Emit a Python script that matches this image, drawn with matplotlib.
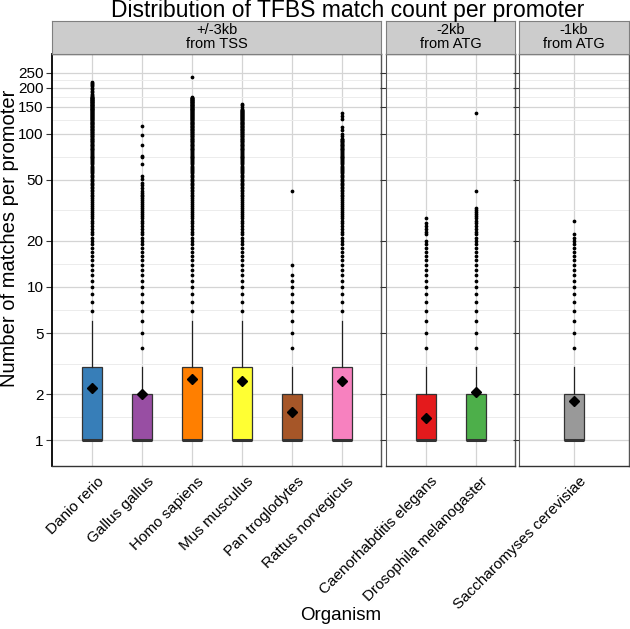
import matplotlib
matplotlib.use("Agg")
from matplotlib import pyplot as plt
import matplotlib.transforms as mtransforms

plt.rcParams['font.family'] = ['Liberation Sans', 'DejaVu Sans']

# facets
facet_labels = ['+/-3kb\nfrom TSS', '-2kb\nfrom ATG', '-1kb\nfrom ATG']
facet_organisms = [
    ['Danio rerio', 'Gallus gallus', 'Homo sapiens', 'Mus musculus', 'Pan troglodytes', 'Rattus norvegicus'],
    ['Caenorhabditis elegans', 'Drosophila melanogaster'],
    ['Saccharomyses cerevisiae'],
]

colors = {
    'Danio rerio': '#377EB8', 'Gallus gallus': '#984EA3', 'Homo sapiens': '#FF7F00',
    'Mus musculus': '#FFFF33', 'Pan troglodytes': '#A65628', 'Rattus norvegicus': '#F781BF',
    'Caenorhabditis elegans': '#E41A1C', 'Drosophila melanogaster': '#4DAF4A',
    'Saccharomyses cerevisiae': '#999999',
}

# box stats (counts are integers)
q1 = {k: 1 for k in colors}
median = {k: 1 for k in colors}
q3 = {'Danio rerio': 3, 'Gallus gallus': 2, 'Homo sapiens': 3, 'Mus musculus': 3,
      'Pan troglodytes': 2, 'Rattus norvegicus': 3, 'Caenorhabditis elegans': 2,
      'Drosophila melanogaster': 2, 'Saccharomyses cerevisiae': 2}
whisker_hi = {'Danio rerio': 6, 'Gallus gallus': 3, 'Homo sapiens': 6, 'Mus musculus': 6,
              'Pan troglodytes': 3, 'Rattus norvegicus': 6, 'Caenorhabditis elegans': 3,
              'Drosophila melanogaster': 3, 'Saccharomyses cerevisiae': 3}
means = {'Danio rerio': 2.2, 'Gallus gallus': 2.0, 'Homo sapiens': 2.5, 'Mus musculus': 2.42,
         'Pan troglodytes': 1.52, 'Rattus norvegicus': 2.45, 'Caenorhabditis elegans': 1.4,
         'Drosophila melanogaster': 2.05, 'Saccharomyses cerevisiae': 1.8}

# outliers: every integer count observed from first outlier up to dense_max, plus sparse ones
dense_max = {'Danio rerio': 175, 'Gallus gallus': 42, 'Homo sapiens': 172, 'Mus musculus': 143,
             'Pan troglodytes': 12, 'Rattus norvegicus': 93, 'Caenorhabditis elegans': 20,
             'Drosophila melanogaster': 33, 'Saccharomyses cerevisiae': 22}
sparse_outliers = {
    'Danio rerio': [178, 182, 186, 190, 195, 200, 204, 208, 212, 215, 218],
    'Gallus gallus': [44, 46, 48, 51, 53, 63, 70, 72, 85, 98, 112],
    'Homo sapiens': [174, 235],
    'Mus musculus': [146, 150, 153, 156],
    'Pan troglodytes': [14, 42],
    'Rattus norvegicus': [96, 100, 106, 111, 124, 130, 137],
    'Caenorhabditis elegans': [22, 23, 24, 25, 26, 28],
    'Drosophila melanogaster': [42, 136],
    'Saccharomyses cerevisiae': [27],
}

y_breaks = [1, 2, 5, 10, 20, 50, 100, 150, 200, 250]
y_minor = [1.414, 3.162, 7.071, 14.14, 31.62, 70.71, 122.5, 173.2, 223.6]

W, H = 630, 629
fig = plt.figure(figsize=(W / 100, H / 100), dpi=100)

panels = [(52, 381, -0.79), (386, 515, -0.79), (519, 629, -1.1)]
top, bottom, strip_top = 54, 466, 21

for i, (x0, x1, lo) in enumerate(panels):
    orgs = facet_organisms[i]
    ax = fig.add_axes([x0 / W, 1 - bottom / H, (x1 - x0) / W, (bottom - top) / H])
    stats = []
    for k in orgs:
        fl = list(range(whisker_hi[k] + 1, dense_max[k] + 1)) + sparse_outliers[k]
        stats.append(dict(med=median[k], q1=q1[k], q3=q3[k], whislo=q1[k],
                          whishi=whisker_hi[k], mean=means[k], fliers=fl))
    pos = list(range(len(orgs)))
    bp = ax.bxp(stats, positions=pos, widths=0.4, patch_artist=True, showmeans=True,
                showcaps=False,
                boxprops=dict(edgecolor='#333333', linewidth=0.9),
                medianprops=dict(color='#333333', linewidth=2.2),
                whiskerprops=dict(color='#222222', linewidth=0.9),
                flierprops=dict(marker='o', markersize=1.7, markerfacecolor='black',
                                markeredgecolor='black', linestyle='none'),
                meanprops=dict(marker='D', markersize=5.5, markerfacecolor='black',
                               markeredgecolor='black'))
    for patch, k in zip(bp['boxes'], orgs):
        patch.set_facecolor(colors[k])
    for l in bp['boxes'] + bp['medians'] + bp['whiskers'] + bp['fliers'] + bp['means']:
        l.set_zorder(3)
    ax.set_yscale('log')
    ax.set_ylim(10 ** -0.168, 10 ** 2.52)
    ax.set_xlim(lo, len(orgs) - 1 - lo)
    ax.set_yticks(y_breaks)
    ax.set_yticks(y_minor, minor=True)
    ax.grid(True, which='major', color='#d4d4d4', linewidth=0.9, zorder=0)
    ax.grid(True, which='minor', axis='y', color='#ececec', linewidth=0.7, zorder=0)
    ax.set_axisbelow(True)
    if i == 0:
        ax.set_yticklabels([str(b) for b in y_breaks], fontsize=11)
        ax.spines['left'].set_color('black')
        ax.spines['left'].set_linewidth(1.3)
    else:
        ax.set_yticklabels([])
        ax.tick_params(axis='y', which='major', length=0)
    ax.tick_params(axis='y', which='minor', length=0, labelleft=False)
    ax.tick_params(axis='y', which='major', color='#333333', length=4, width=0.8, pad=2)
    ax.set_xticks(pos)
    ax.set_xticklabels(orgs, rotation=45, ha='right', va='top', rotation_mode='anchor',
                       fontsize=11)
    ax.tick_params(axis='x', length=0, pad=6)
    offset = mtransforms.ScaledTranslation(0.05, 0, fig.dpi_scale_trans)
    for lab in ax.get_xticklabels():
        lab.set_transform(lab.get_transform() + offset)
    for s in ['top', 'right', 'bottom']:
        ax.spines[s].set_color('#555555')
        ax.spines[s].set_linewidth(1.0)
    ax.spines['bottom'].set_color('#333333')
    if i > 0:
        ax.spines['left'].set_color('#555555')

    sax = fig.add_axes([x0 / W, 1 - top / H, (x1 - x0) / W, (top - strip_top) / H])
    sax.set_facecolor('#cccccc')
    sax.set_xticks([])
    sax.set_yticks([])
    for s in sax.spines.values():
        s.set_color('#7f7f7f')
        s.set_linewidth(0.8)
    sax.text(0.5, 0.5, facet_labels[i], ha='center', va='center', fontsize=10.5,
             linespacing=1.0, transform=sax.transAxes)

fig.text(348 / W, 1 - 10 / H, 'Distribution of TFBS match count per promoter', ha='center',
         va='center', fontsize=16.5)
fig.text(341 / W, 1 - 616 / H, 'Organism', ha='center', va='center', fontsize=13.5)
fig.text(10 / W, 1 - 238 / H, 'Number of matches per promoter', ha='center', va='center',
         rotation=90, fontsize=14.5)

fig.savefig('out.png', dpi=100)
